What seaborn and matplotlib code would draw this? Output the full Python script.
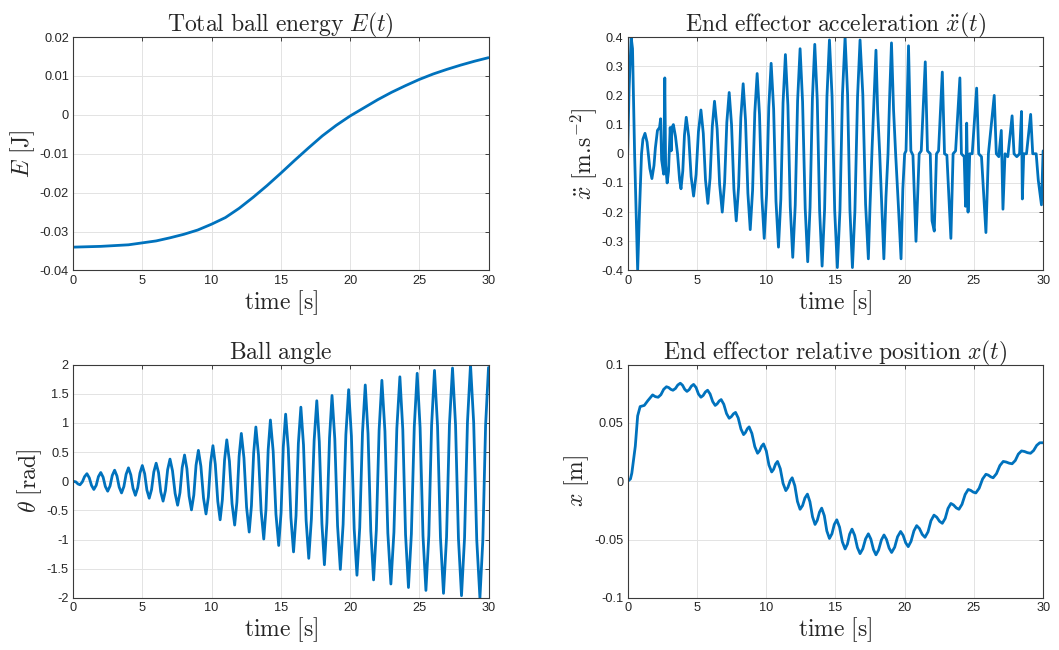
import pandas as pd
import matplotlib
matplotlib.use("Agg")
import matplotlib.pyplot as plt
from matplotlib.ticker import FormatStrFormatter
import seaborn as sns

# ---- data ----
energy_t = list(range(0, 31))
energy_v = [-0.0340, -0.0339, -0.0338, -0.0336, -0.0334, -0.0329, -0.0324, -0.0316,
            -0.0307, -0.0296, -0.0281, -0.0264, -0.0240, -0.0212, -0.0182, -0.0150,
            -0.0117, -0.0085, -0.0054, -0.0027, -0.0003, 0.0018, 0.0039, 0.0058,
            0.0075, 0.0091, 0.0105, 0.0117, 0.0128, 0.0138, 0.0147]

# (time, value) pairs for the oscillating signals
acc_points = [
    (0.0, 0.0), (0.1, 0.22), (0.25, 0.40), (0.35, 0.36), (0.5, 0.0), (0.72, -0.40),
    (0.85, -0.20), (1.0, 0.0), (1.1, 0.05), (1.25, 0.07), (1.4, 0.04), (1.6, -0.05),
    (1.75, -0.085), (1.9, -0.04), (2.0, 0.02), (2.15, 0.08), (2.3, 0.09), (2.38, 0.12),
    (2.45, -0.02), (2.6, -0.07), (2.68, 0.26), (2.74, -0.04), (2.85, -0.10), (2.95, -0.06),
    (3.07, 0.09), (3.14, 0.01), (3.2, 0.09), (3.3, 0.10), (3.45, 0.06), (3.6, 0.0),
    (3.75, -0.09), (3.85, -0.12),
    (3.98, -0.059), (4.10, 0.064), (4.23, 0.125), (4.41, 0.058), (4.58, -0.078), (4.76, -0.145),
    (4.94, -0.071), (5.11, 0.076), (5.29, 0.15), (5.46, 0.07), (5.62, -0.09), (5.79, -0.17),
    (5.95, -0.083), (6.11, 0.093), (6.27, 0.18), (6.46, 0.085), (6.64, -0.105), (6.83, -0.20),
    (7.0, -0.098), (7.16, 0.108), (7.33, 0.21), (7.5, 0.10), (7.67, -0.12), (7.84, -0.23),
    (8.01, -0.113), (8.17, 0.123), (8.34, 0.24), (8.51, 0.115), (8.68, -0.135), (8.85, -0.26),
    (9.02, -0.126), (9.18, 0.141), (9.35, 0.275), (9.52, 0.134), (9.69, -0.149), (9.86, -0.29),
    (10.03, -0.14), (10.19, 0.16), (10.36, 0.31), (10.54, 0.153), (10.71, -0.163), (10.89, -0.32),
    (11.06, -0.155), (11.22, 0.175), (11.39, 0.34), (11.57, 0.166), (11.74, -0.181), (11.92, -0.355),
    (12.10, -0.176), (12.27, 0.181), (12.45, 0.36), (12.63, 0.178), (12.82, -0.188), (13.0, -0.37),
    (13.17, -0.184), (13.34, 0.189), (13.51, 0.375), (13.69, 0.185), (13.86, -0.195), (14.04, -0.385),
    (14.22, -0.191), (14.39, 0.196), (14.57, 0.39), (14.76, 0.195), (14.95, -0.195), (15.14, -0.39),
    (15.33, -0.193), (15.51, 0.203), (15.7, 0.40), (15.88, 0.203), (16.05, -0.193), (16.23, -0.39),
    (16.41, -0.195), (16.6, 0.195), (16.78, 0.39), (16.98, 0.203), (17.18, -0.173), (17.38, -0.36),
    (17.5, -0.18), (17.65, 0.02), (17.8, 0.2), (17.93, 0.355), (18.05, 0.15), (18.2, 0.0),
    (18.35, -0.18), (18.5, -0.36), (18.65, -0.15), (18.8, 0.0), (18.92, 0.2), (19.05, 0.38),
    (19.2, 0.15), (19.35, 0.0), (19.55, -0.18), (19.74, -0.36), (19.87, -0.12), (20.0, 0.0),
    (20.1, 0.01), (20.28, 0.37), (20.45, 0.01), (20.6, -0.005), (20.82, -0.30), (21.05, 0.0),
    (21.2, 0.01), (21.49, 0.315), (21.65, 0.01), (21.85, 0.0), (21.98, -0.23), (22.14, -0.265),
    (22.3, 0.0), (22.45, 0.01), (22.72, 0.28), (22.88, 0.0), (23.05, -0.005), (23.34, -0.29),
    (23.5, 0.0), (23.68, 0.01), (23.99, 0.26), (24.1, 0.0), (24.3, -0.01), (24.4, -0.18),
    (24.48, 0.105), (24.58, -0.20), (24.7, 0.0), (24.88, 0.0), (25.2, 0.225), (25.35, 0.0),
    (25.55, -0.01), (25.87, -0.27), (26.05, 0.0), (26.47, 0.20), (26.62, 0.0), (26.8, -0.01),
    (26.98, 0.08), (27.1, -0.19), (27.25, 0.0), (27.45, -0.01), (27.76, 0.13), (27.9, 0.0),
    (28.1, -0.01), (28.3, 0.0), (28.44, 0.145), (28.5, -0.155), (28.6, 0.0), (28.8, 0.0),
    (29.1, 0.135), (29.25, 0.0), (29.5, 0.0), (29.65, -0.09), (29.88, -0.175), (30.0, 0.01),
]

theta_points = [
    (0.0, 0.0), (0.2, -0.01), (0.35, -0.045), (0.5, -0.06),
    (0.67, -0.01), (0.83, 0.08), (1.0, 0.13), (1.17, 0.06), (1.33, -0.07), (1.5, -0.14),
    (1.67, -0.07), (1.83, 0.08), (2.0, 0.15), (2.17, 0.07), (2.33, -0.09), (2.5, -0.17),
    (2.67, -0.08), (2.83, 0.10), (3.0, 0.19), (3.17, 0.09), (3.33, -0.10), (3.5, -0.20),
    (3.67, -0.09), (3.83, 0.12), (4.0, 0.23), (4.17, 0.11), (4.33, -0.12), (4.5, -0.24),
    (4.67, -0.11), (4.83, 0.14), (5.0, 0.27), (5.17, 0.13), (5.33, -0.15), (5.5, -0.29),
    (5.67, -0.14), (5.83, 0.16), (6.0, 0.31), (6.17, 0.15), (6.33, -0.18), (6.5, -0.34),
    (6.67, -0.16), (6.83, 0.20), (7.0, 0.38), (7.18, 0.18), (7.37, -0.21), (7.55, -0.41),
    (7.72, -0.195), (7.88, 0.235), (8.05, 0.45), (8.22, 0.215), (8.38, -0.255), (8.55, -0.49),
    (8.72, -0.235), (8.88, 0.275), (9.05, 0.53), (9.23, 0.258), (9.42, -0.288), (9.6, -0.56),
    (9.77, -0.268), (9.93, 0.318), (10.1, 0.61), (10.27, 0.293), (10.45, -0.343), (10.62, -0.66),
    (10.78, -0.318), (10.94, 0.368), (11.1, 0.71), (11.29, 0.345), (11.48, -0.385), (11.67, -0.75),
    (11.83, -0.358), (11.99, 0.428), (12.15, 0.82), (12.34, 0.398), (12.53, -0.448), (12.72, -0.87),
    (12.88, -0.42), (13.04, 0.48), (13.2, 0.93), (13.39, 0.45), (13.58, -0.51), (13.77, -0.99),
    (13.93, -0.48), (14.09, 0.54), (14.25, 1.05), (14.45, 0.513), (14.65, -0.563), (14.85, -1.10),
    (15.02, -0.538), (15.18, 0.588), (15.35, 1.15), (15.54, 0.56), (15.73, -0.62), (15.92, -1.21),
    (16.10, -0.59), (16.27, 0.65), (16.45, 1.27), (16.64, 0.623), (16.83, -0.673), (17.02, -1.32),
    (17.21, -0.645), (17.41, 0.705), (17.6, 1.38), (17.78, 0.678), (17.97, -0.728), (18.15, -1.43),
    (18.33, -0.705), (18.52, 0.745), (18.7, 1.47), (18.9, 0.725), (19.1, -0.765), (19.3, -1.51),
    (19.5, -0.74), (19.7, 0.80), (19.9, 1.57), (20.1, 0.775), (20.3, -0.815), (20.5, -1.61),
    (20.7, -0.795), (20.9, 0.835), (21.1, 1.65), (21.3, 0.815), (21.5, -0.855), (21.7, -1.69),
    (21.9, -0.835), (22.1, 0.875), (22.3, 1.73), (22.52, 0.858), (22.73, -0.888), (22.95, -1.76),
    (23.17, -0.873), (23.38, 0.903), (23.6, 1.79), (23.81, 0.888), (24.01, -0.918), (24.22, -1.82),
    (24.43, -0.903), (24.64, 0.933), (24.85, 1.85), (25.06, 0.92), (25.27, -0.94), (25.48, -1.87),
    (25.69, -0.928), (25.89, 0.958), (26.1, 1.90), (26.32, 0.945), (26.53, -0.965), (26.75, -1.92),
    (26.97, -0.955), (27.18, 0.975), (27.4, 1.94), (27.62, 0.965), (27.83, -0.985), (28.05, -1.96),
    (28.27, -0.97), (28.48, 1.01), (28.7, 2.0), (28.93, 1.0), (29.15, -1.0), (29.38, -2.0),
    (29.59, -1.01), (29.79, 0.96), (30.0, 1.95),
]

pos_points = [
    (0.0, 0.0), (0.2, 0.002), (0.3, 0.007), (0.55, 0.03), (0.72, 0.056), (0.9, 0.064),
    (1.2, 0.065), (1.45, 0.069), (1.8, 0.074), (2.0, 0.0725), (2.2, 0.072),
    (2.4, 0.0742), (2.6, 0.0788), (2.8, 0.081), (2.96, 0.0803), (3.11, 0.0788), (3.27, 0.078),
    (3.45, 0.0795), (3.62, 0.0825), (3.8, 0.084), (3.96, 0.0823), (4.12, 0.0788), (4.28, 0.077),
    (4.44, 0.0785), (4.6, 0.0815), (4.76, 0.083), (4.94, 0.0803), (5.11, 0.0748), (5.29, 0.072),
    (5.45, 0.0735), (5.61, 0.0765), (5.77, 0.078), (5.95, 0.0748), (6.14, 0.0683), (6.32, 0.065),
    (6.46, 0.0663), (6.61, 0.0688), (6.75, 0.070), (6.94, 0.066), (7.14, 0.058), (7.33, 0.054),
    (7.48, 0.0553), (7.64, 0.0578), (7.79, 0.059), (7.98, 0.0543), (8.18, 0.0448), (8.37, 0.040),
    (8.5, 0.0417), (8.64, 0.045), (8.77, 0.0466), (8.97, 0.041), (9.18, 0.0297), (9.38, 0.024),
    (9.52, 0.026), (9.67, 0.030), (9.81, 0.032), (10.01, 0.026), (10.2, 0.014), (10.4, 0.008),
    (10.54, 0.0103), (10.68, 0.0148), (10.82, 0.017), (11.02, 0.0108), (11.22, -0.0018), (11.42, -0.008),
    (11.57, -0.0053), (11.73, 0.0003), (11.88, 0.003), (12.07, -0.0038), (12.26, -0.0173), (12.45, -0.024),
    (12.63, -0.0208), (12.8, -0.0143), (12.98, -0.011), (13.16, -0.0175), (13.35, -0.0305), (13.53, -0.037),
    (13.69, -0.0335), (13.85, -0.0265), (14.01, -0.023), (14.2, -0.0295), (14.38, -0.0425), (14.57, -0.049),
    (14.75, -0.045), (14.92, -0.037), (15.1, -0.033), (15.3, -0.0393), (15.5, -0.0518), (15.7, -0.058),
    (15.87, -0.0538), (16.03, -0.0453), (16.2, -0.041), (16.39, -0.0463), (16.59, -0.0568), (16.78, -0.062),
    (16.98, -0.0578), (17.18, -0.0493), (17.38, -0.045), (17.56, -0.0495), (17.75, -0.0585), (17.93, -0.063),
    (18.12, -0.0588), (18.32, -0.0503), (18.51, -0.046), (18.69, -0.0498), (18.88, -0.0573), (19.06, -0.061),
    (19.28, -0.0565), (19.49, -0.0475), (19.71, -0.043), (19.89, -0.0463), (20.08, -0.0528), (20.26, -0.056),
    (20.46, -0.0515), (20.67, -0.0425), (20.87, -0.038), (21.07, -0.0405), (21.27, -0.0455), (21.47, -0.048),
    (21.69, -0.0433), (21.9, -0.0338), (22.12, -0.029), (22.32, -0.0308), (22.52, -0.0343), (22.72, -0.036),
    (22.93, -0.0318), (23.13, -0.0233), (23.34, -0.019), (23.53, -0.0203), (23.73, -0.0228), (23.92, -0.024),
    (24.14, -0.0198), (24.37, -0.0113), (24.59, -0.007), (24.77, -0.0078), (24.96, -0.0093), (25.14, -0.010),
    (25.38, -0.006), (25.63, 0.002), (25.87, 0.006), (26.04, 0.0053), (26.22, 0.0038), (26.39, 0.003),
    (26.63, 0.0065), (26.88, 0.0135), (27.12, 0.017), (27.33, 0.0165), (27.55, 0.0155), (27.76, 0.015),
    (27.99, 0.0178), (28.21, 0.0233), (28.44, 0.026), (28.66, 0.0255), (28.87, 0.0245), (29.09, 0.024),
    (29.31, 0.0263), (29.54, 0.0308), (29.76, 0.033), (30.0, 0.033),
]

titles = [r"$\mathrm{Total\ ball\ energy}\ E(t)$",
          r"$\mathrm{End\ effector\ acceleration}\ \ddot{x}(t)$",
          r"$\mathrm{Ball\ angle}$",
          r"$\mathrm{End\ effector\ relative\ position}\ x(t)$"]
ylabels = [r"$E\ [\mathrm{J}]$", r"$\ddot{x}\ [\mathrm{m}.\!\mathrm{s}^{-2}]$",
           r"$\theta\ [\mathrm{rad}]$", r"$x\ [\mathrm{m}]$"]
xlabel = r"$\mathrm{time}\ [\mathrm{s}]$"
ylims = [(-0.04, 0.02), (-0.4, 0.4), (-2, 2), (-0.1, 0.1)]
yticks = [[-0.04, -0.03, -0.02, -0.01, 0, 0.01, 0.02],
          [-0.4, -0.3, -0.2, -0.1, 0, 0.1, 0.2, 0.3, 0.4],
          [-2, -1.5, -1, -0.5, 0, 0.5, 1, 1.5, 2],
          [-0.1, -0.05, 0, 0.05, 0.1]]
xticks = [0, 5, 10, 15, 20, 25, 30]

# ---- style: MATLAB-like look ----
sns.set_style("white")
plt.rcParams["font.family"] = ["Liberation Sans", "DejaVu Sans"]
plt.rcParams["mathtext.fontset"] = "cm"
plt.rcParams["axes.unicode_minus"] = False

line_color = "#0072BD"
text_color = "#262626"

series = [pd.DataFrame({"t": energy_t, "v": energy_v}),
          pd.DataFrame(acc_points, columns=["t", "v"]),
          pd.DataFrame(theta_points, columns=["t", "v"]),
          pd.DataFrame(pos_points, columns=["t", "v"])]

fig, axes = plt.subplots(2, 2, figsize=(10.59, 6.5), dpi=100)
plt.subplots_adjust(left=0.069, right=0.985, bottom=0.08, top=0.943,
                    wspace=0.335, hspace=0.403)

for i, ax in enumerate(axes.flat):
    sns.lineplot(data=series[i], x="t", y="v", ax=ax, color=line_color,
                 linewidth=2.0, estimator=None, sort=False)
    ax.lines[0].set_solid_joinstyle("round")
    ax.set_xlim(0, 30)
    ax.set_ylim(*ylims[i])
    ax.set_xticks(xticks)
    ax.set_yticks(yticks[i])
    ax.xaxis.set_major_formatter(FormatStrFormatter("%g"))
    ax.yaxis.set_major_formatter(FormatStrFormatter("%g"))
    ax.grid(True, color="#e3e3e3", linewidth=0.7)
    ax.set_axisbelow(True)
    ax.tick_params(direction="in", length=3, width=0.6, labelsize=9.2,
                   colors=text_color, top=True, right=True, pad=3)
    for s in ax.spines.values():
        s.set_color("#3a3a3a")
        s.set_linewidth(0.8)
    ax.set_title(titles[i], fontsize=17, color=text_color, pad=4)
    ax.set_xlabel(xlabel, fontsize=17, color=text_color, labelpad=1)
    ax.set_ylabel(ylabels[i], fontsize=17, color=text_color, labelpad=2)

fig.savefig("out.png", dpi=100, facecolor="white")
